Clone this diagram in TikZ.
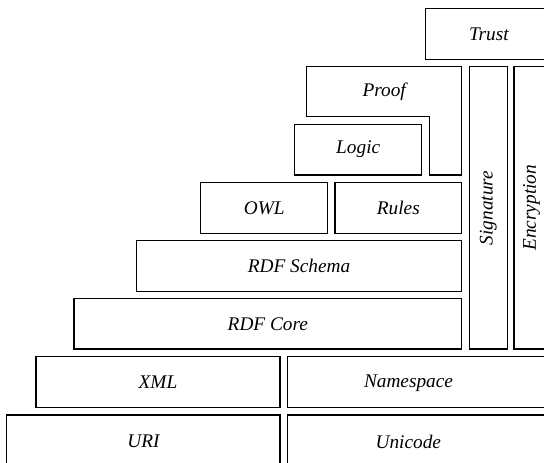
\documentclass[tikz,border=0pt]{standalone}
\usepackage{fontspec}
\setmainfont{Liberation Serif}
\begin{document}
\begin{tikzpicture}[x=1pt,y=-1pt,
  box/.style={draw, line width=1.1pt, inner sep=0pt, rectangle, font=\fontsize{19.3}{21}\selectfont\itshape},
  lbl/.style={inner sep=0pt, font=\fontsize{19.3}{21}\selectfont\itshape}]
\useasboundingbox (0,0) rectangle (544,463);
\node[box, minimum width=126.3pt, minimum height=51pt] (trust) at (488.85,33.8) {Trust};
\draw[line width=1.1pt] (306.7,66.7) -- (461.7,66.7) -- (461.7,175) -- (429.3,175) -- (429.3,116.7) -- (306.7,116.7) -- cycle;
\node[lbl] (proof) at (384.2,91.7) {Proof};
\node[box, minimum width=127pt, minimum height=50.7pt] (logic) at (358.2,149.65) {Logic};
\node[box, minimum width=38pt, minimum height=282.3pt] (sig) at (488.3,207.85) {};
\node[lbl, rotate=90] (sigt) at (sig.center) {Signature};
\node[box, minimum width=35pt, minimum height=282.3pt] (enc) at (531.5,207.85) {};
\node[lbl, rotate=90] (enct) at (enc.center) {Encryption};
\node[box, minimum width=127pt, minimum height=50.6pt] (owl) at (264.2,208) {OWL};
\node[box, minimum width=126.7pt, minimum height=50.6pt] (rules) at (398.35,208) {Rules};
\node[box, minimum width=325.4pt, minimum height=50.6pt] (rdfs) at (299,266) {RDF Schema};
\node[box, minimum width=387.7pt, minimum height=50.3pt] (rdfc) at (267.85,323.85) {RDF Core};
\node[box, minimum width=244pt, minimum height=51pt] (xml) at (158,382.2) {XML};
\node[box, minimum width=272.7pt, minimum height=51pt] (ns) at (423.65,382.2) {};
\node[lbl] (nst) at (408.5,383) {Namespace};
\node[box, minimum width=273.3pt, minimum height=55pt] (uri) at (143.35,442.5) {};
\node[lbl] (urit) at (143.4,441.7) {URI};
\node[box, minimum width=272.7pt, minimum height=55pt] (uni) at (423.65,442.5) {};
\node[lbl] (unit) at (408.3,441.7) {Unicode};
\end{tikzpicture}
\end{document}
